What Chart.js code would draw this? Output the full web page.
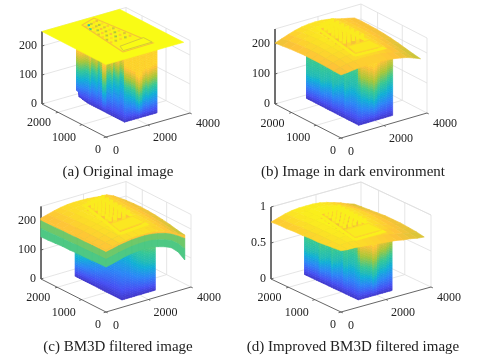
<!DOCTYPE html>
<html lang="en">
<head>
<meta charset="UTF-8">
<title>BM3D surface plots</title>
<script src="https://cdn.jsdelivr.net/npm/chart.js"></script>
<style>
    body { margin: 0; background: #fff; }
    #wrap { position: relative; width: 480px; height: 361px; overflow: hidden; }
    canvas { position: absolute; left: 0; top: 0; filter: blur(0.4px); }
    .cap { position: absolute; width: 240px; text-align: center; font: 15px "Liberation Serif", serif; color: #222; line-height: 16px; white-space: nowrap; }
</style>
</head>
<body>
<div id="wrap">
    <canvas id="plot" width="480" height="361"></canvas>
    <div class="cap" style="left:-2px;top:163px">(a) Original image</div>
    <div class="cap" style="left:233px;top:163px">(b) Image in dark environment</div>
    <div class="cap" style="left:-2px;top:338px">(c) BM3D filtered image</div>
    <div class="cap" style="left:233px;top:338px">(d) Improved BM3D filtered image</div>
</div>
<script>
// tick values
const xTicks = [0, 2000, 4000];
const yTicks = [0, 1000, 2000];
const zTicks = [0, 100, 200];
const zTicksD = [0, 0.5, 1];

// top surface heights, one row per image line (front edge first)
const sheetA = [[250, 250], [250, 250]];
const sheetB = [
    [210,212,215,217,218,219,218,216,213,209,204,196,187],
    [211,216,221,224,226,226,225,223,219,214,208,199,191],
    [212,219,225,229,231,232,231,228,224,219,212,203,196],
    [213,221,228,232,234,235,234,232,228,222,215,206,201],
    [213,222,229,234,237,238,237,234,230,224,217,209,205],
    [213,222,230,235,238,239,238,236,232,226,219,211,208],
    [211,221,229,235,238,239,239,237,233,227,220,212,210],
    [209,219,227,233,236,238,238,236,233,227,220,213,211],
    [206,215,223,230,234,236,237,235,232,227,220,214,211],
    [203,211,219,226,231,234,235,234,231,226,220,215,210]
];
const sheetC = [
    [214,219,224,227,230,231,231,229,225,219,210,198,186],
    [214,220,226,230,233,234,234,232,228,222,213,201,190],
    [214,221,227,232,235,237,237,235,231,225,216,205,196],
    [213,221,228,233,236,238,238,236,232,226,218,208,200],
    [213,221,228,233,237,239,239,237,233,227,219,210,203],
    [212,220,227,233,236,238,239,237,233,227,220,211,205],
    [212,220,226,232,235,237,238,236,233,227,221,212,206],
    [211,218,225,230,233,235,236,235,232,227,222,213,205],
    [210,217,223,228,231,233,234,233,230,226,223,214,203],
    [210,216,222,227,230,231,231,230,228,225,224,214,200]
];
const sheetD = [
    [.85,.84,.84,.83,.82,.81,.80,.79,.78,.76,.75,.73,.72],
    [.84,.85,.86,.86,.86,.85,.84,.83,.81,.79,.77,.75,.74],
    [.83,.85,.87,.88,.88,.88,.87,.85,.83,.81,.79,.76,.75],
    [.82,.85,.87,.89,.90,.89,.88,.87,.85,.83,.80,.77,.76],
    [.82,.85,.87,.89,.90,.90,.89,.88,.86,.84,.81,.78,.76],
    [.81,.84,.87,.89,.90,.90,.90,.89,.87,.84,.82,.78,.76],
    [.81,.84,.87,.89,.90,.90,.90,.89,.87,.85,.82,.78,.75],
    [.80,.83,.86,.88,.89,.90,.90,.89,.87,.85,.81,.77,.74],
    [.80,.83,.86,.88,.89,.89,.89,.88,.86,.83,.80,.76,.73],
    [.79,.82,.85,.87,.88,.88,.88,.87,.85,.82,.79,.75,.72]
];

// height where each wall column turns teal, left face then right face
const wallLeftA = [75,90,70,100,80,110,85,95,120,90,110,130,85,62,90,135,100,125,140,110,135,150,125];
const wallRightA = [125,95,110,85,95,75,60,55,70,85,80,75,88,82,90];
const wallLeftB = [85,90,80,95,85,100,90,80,100,90,110,95,85,115,95,125,110,95,125,115,130,120,120];
const wallRightB = [120,110,90,105,78,90,75,72,85,95,100,95,105,110,115];
const wallLeftC = [80,82,84,88,92,95,100,105,110,115,120,128,135,140,148,155,160,165,170,175,178,180,182];
const wallRightC = [182,175,168,160,150,140,132,125,118,112,108,105,103,100,98];
const wallLeftD = [.34,.38,.32,.40,.34,.42,.36,.30,.40,.34,.44,.38,.32,.46,.36,.50,.44,.36,.48,.44,.50,.46,.46];
const wallRightD = [.46,.42,.32,.40,.30,.36,.28,.26,.32,.36,.40,.36,.40,.42,.44];
const wallFloorA = [25,22,6,3,2,0];

// hanging band under the rim of (c)
const skirtLeftC = [155,155,153,152,152,150,150,148,146,145];
const skirtRightC = [155,160,166,172,176,178,179,178,172,165,155,134,100];

// outline of the raised inset and the block on it, as image x,y
const insetA = [[1264,398],[2720,422],[2392,2600],[1612,2414]];
const insetB = [[1168,448],[2404,392],[2328,2470],[1624,2344]];
const insetC = [[1065,350],[2400,450],[2580,2420],[1660,2320]];
const insetD = [[925,260],[2184,272],[2292,2082],[1436,2110]];
const blockA = [[1300,420],[2700,440],[2700,800],[1470,700]];
const blockB = [[1200,450],[2350,400],[2350,900],[1350,900]];
const blockC = [[1100,400],[2350,470],[2350,950],[1250,900]];
const blockD = [[950,280],[2150,280],[2150,800],[1100,800]];

// colour index of the pits inside the inset, 7 rows of 5
const pitsA = [
    [.88,.78,.90,.74,.85],[.76,.92,.70,.88,.80],[.90,.74,.85,.72,.90],[.80,.88,.76,.92,.78],
    [.92,.72,.85,.80,.88],[.56,.90,.78,.74,.92],[.88,.52,.76,.90,.82]
];
const pitsB = [
    [.86,.90,.84,.92,.86],[.90,.84,.93,.85,.90],[.84,.92,.86,.90,.85],[.92,.85,.90,.84,.92],
    [.85,.90,.84,.92,.86],[.90,.86,.92,.85,.90],[.86,.90,.85,.90,.87]
];
const pitsC = [
    [.86,.92,.85,.94,.86],[.92,.85,.95,.86,.92],[.85,.94,.86,.92,.85],[.94,.86,.92,.85,.94],
    [.86,.92,.85,.94,.86],[.92,.86,.94,.86,.92],[.86,.92,.86,.92,.88]
];
const pitsD = [
    [.84,.90,.82,.92,.85],[.90,.83,.93,.84,.90],[.83,.92,.85,.90,.84],[.92,.84,.90,.83,.92],
    [.84,.90,.83,.92,.85],[.90,.85,.92,.84,.90],[.86,.90,.85,.90,.87]
];

const parula = ['#3E26A8','#4852F4','#2E87F7','#12B1D6','#37C897','#ABC739','#FEC338','#F9FB15'];

function tone(t) {
    t = Math.max(0, Math.min(1, t)) * (parula.length - 1);
    const i = Math.min(parula.length - 2, Math.floor(t)), f = t - i;
    const a = parula[i], b = parula[i + 1];
    const ch = k => {
        const p = parseInt(a.substr(k, 2), 16), q = parseInt(b.substr(k, 2), 16);
        return Math.round(p + (q - p) * f);
    };
    return `rgb(${ch(1)},${ch(3)},${ch(5)})`;
}

const panels = [
    { o: [106,137], xv: [84,-24], yv: [-64,-33], zk: .29, zTop: 250, zTicks, cMax: 250, rampL: 100, rampR: 95,
      sheet: sheetA, wL: wallLeftA, wR: wallRightA, floor: wallFloorA, x0: 1450, yMin: 498, yMax: 2500, xMax: 3000,
      inset: insetA, block: blockA, pits: pitsA, insetTone: .985, lipTone: .84, blockTone: 1, pitTop: .98, insetZ: 250, pitLen: 14, lipW: 1.1, pitW: 2.6 },
    { o: [341,138], xv: [86,-25], yv: [-66,-34], zk: .30, zTop: 250, zTicks, cMax: 250, rampL: 260, rampR: 120,
      sheet: sheetB, wL: wallLeftB, wR: wallRightB, x0: 1260, yMin: 380, yMax: 2490, xMax: 2840,
      inset: insetB, block: blockB, pits: pitsB, insetTone: .85, lipTone: .96, blockTone: .95, pitTop: .96, insetZ: 232, pitLen: 36, lipW: 3, pitW: 3.4 },
    { o: [106,312], xv: [85,-25], yv: [-65,-33], zk: .29, zTop: 250, zTicks, cMax: 250, rampL: 200, rampR: 200,
      sheet: sheetC, wL: wallLeftC, wR: wallRightC, x0: 1180, yMin: 374, yMax: 2290, xMax: 2752,
      inset: insetC, block: blockC, pits: pitsC, insetTone: .86, lipTone: .96, blockTone: .95, pitTop: .96, insetZ: 232, pitLen: 36, lipW: 3, pitW: 3.4,
      skirtL: skirtLeftC, skirtR: skirtRightC },
    { o: [341,312], xv: [90,-25], yv: [-70,-33], zk: 72, zTop: 1, zTicks: zTicksD, cMax: .92, rampL: .9, rampR: .48,
      sheet: sheetD, wL: wallLeftD, wR: wallRightD, x0: 1200, yMin: 371, yMax: 2416, xMax: 2704,
      inset: insetD, block: blockD, pits: pitsD, insetTone: .86, lipTone: .97, blockTone: .96, pitTop: .97, insetZ: .88, pitLen: .14, lipW: 3, pitW: 3.4 }
];

const xLimit = 4000, yLimit = 2670, sheetX = 3700, sheetY = 2670;

function project(p, x, y, z) {
    const a = x / xLimit, b = y / yLimit;
    return { x: p.o[0] + p.xv[0] * a + p.yv[0] * b, y: p.o[1] + p.xv[1] * a + p.yv[1] * b - z * p.zk };
}

const datasets = [];
function addLine(points, color, width) {
    datasets.push({ data: points, showLine: true, borderColor: color, borderWidth: width, pointRadius: 0, fill: false });
}
function addPoly(points, color) {
    datasets.push({ data: points.concat([points[0]]), showLine: true, backgroundColor: color, borderColor: color, borderWidth: 0.6, pointRadius: 0, fill: 'shape' });
}

const tickLabels = [];

function addAxes(p) {
    const grid = '#dedede', dark = '#555';
    const P = (x, y, z) => project(p, x, y, z);
    const zt = p.zTicks.slice(1).concat(p.zTop);
    // back walls and floor
    for (const x of xTicks.slice(1, 2)) {
        addLine([P(x, 0, 0), P(x, yLimit, 0), P(x, yLimit, p.zTop)], grid, 0.8);
    }
    for (const y of yTicks.slice(1)) {
        addLine([P(0, y, 0), P(xLimit, y, 0), P(xLimit, y, p.zTop)], grid, 0.8);
    }
    for (const z of zt) {
        addLine([P(0, yLimit, z), P(xLimit, yLimit, z), P(xLimit, 0, z)], grid, 0.8);
    }
    addLine([P(0, yLimit, 0), P(xLimit, yLimit, 0), P(xLimit, 0, 0)], grid, 0.8);
    addLine([P(xLimit, yLimit, 0), P(xLimit, yLimit, p.zTop)], grid, 0.8);
    addLine([P(xLimit, 0, 0), P(xLimit, 0, p.zTop)], grid, 0.8);
    // front axes
    addLine([P(0, yLimit, p.zTop), P(0, yLimit, 0), P(0, 0, 0), P(xLimit, 0, 0)], dark, 0.9);
    for (const x of xTicks) addLine([P(x, 0, 0), P(x, -70, 0)], dark, 0.9);
    for (const y of yTicks) addLine([P(0, y, 0), P(-110, y, 0)], dark, 0.9);
    for (const z of p.zTicks) addLine([P(0, yLimit, z), P(110, yLimit, z)], dark, 0.9);

    const xOff = [[10,14], [17,13], [18,11]], yOff = [[-8,13], [-18,13], [-19,11]];
    xTicks.forEach((x, i) => {
        const q = P(x, 0, 0);
        tickLabels.push({ x: q.x + xOff[i][0], y: q.y + xOff[i][1], text: String(x), align: 'center' });
    });
    yTicks.forEach((y, i) => {
        const q = P(0, y, 0);
        tickLabels.push({ x: q.x + yOff[i][0], y: q.y + yOff[i][1], text: String(y), align: 'center' });
    });
    p.zTicks.forEach(z => {
        const q = P(0, yLimit, z);
        tickLabels.push({ x: q.x - 5, y: q.y, text: String(z), align: 'right' });
    });
}

function wallColor(z, g, ramp) {
    if (z < g) return tone(0.06 + 0.44 * z / g);
    return tone(Math.min(0.9, 0.5 + 0.45 * (z - g) / ramp));
}

function addWall(p) {
    const rows = 38, top = p.zTop * 0.92;
    const face = (vals, ramp, at, floor) => {
        for (let i = 0; i < vals.length - 1; i++) {
            const f0 = floor && floor[i] ? floor[i] : 0, f1 = floor && floor[i + 1] ? floor[i + 1] : 0;
            const g = (vals[i] + vals[i + 1]) / 2;
            const [x0, y0] = at(i / (vals.length - 1)), [x1, y1] = at((i + 1) / (vals.length - 1));
            for (let r = 0; r < rows; r++) {
                const z0 = r * top / rows, z1 = (r + 1) * top / rows;
                if (z1 <= Math.min(f0, f1)) continue;
                addPoly([
                    project(p, x0, y0, Math.max(z0, f0)), project(p, x1, y1, Math.max(z0, f1)),
                    project(p, x1, y1, z1), project(p, x0, y0, z1)
                ], wallColor((z0 + z1) / 2, g, ramp));
            }
        }
    };
    face(p.wL, p.rampL, t => [p.x0, p.yMax + (p.yMin - p.yMax) * t], p.floor);
    face(p.wR, p.rampR, t => [p.x0 + (p.xMax - p.x0) * t, p.yMin]);
}

function sheetZ(p, ix, iy) { return p.sheet[iy][ix]; }
function sheetPos(p, ix, iy) {
    const nx = p.sheet[0].length - 1, ny = p.sheet.length - 1;
    return [ix / nx * sheetX, iy / ny * sheetY];
}

function addSkirt(p) {
    const ny = p.sheet.length - 1, nx = p.sheet[0].length - 1;
    const strip = (a, b, za, zb, ba, bb) => {
        const k = [[0, .14, .86], [.14, .55, .64], [.55, 1, .6]];
        for (const [s, e, t] of k) {
            addPoly([
                project(p, a[0], a[1], za + (ba - za) * s), project(p, b[0], b[1], zb + (bb - zb) * s),
                project(p, b[0], b[1], zb + (bb - zb) * e), project(p, a[0], a[1], za + (ba - za) * e)
            ], tone(t));
        }
    };
    for (let i = 0; i < ny; i++) {
        strip(sheetPos(p, 0, i), sheetPos(p, 0, i + 1), sheetZ(p, 0, i), sheetZ(p, 0, i + 1), p.skirtL[i], p.skirtL[i + 1]);
    }
    for (let i = 0; i < nx; i++) {
        strip(sheetPos(p, i, 0), sheetPos(p, i + 1, 0), sheetZ(p, i, 0), sheetZ(p, i + 1, 0), p.skirtR[i], p.skirtR[i + 1]);
    }
}

function addSheet(p) {
    const ny = p.sheet.length - 1, nx = p.sheet[0].length - 1;
    for (let iy = ny - 1; iy >= 0; iy--) {
        for (let ix = nx - 1; ix >= 0; ix--) {
            const c = [[ix, iy], [ix + 1, iy], [ix + 1, iy + 1], [ix, iy + 1]];
            let zs = 0;
            const pts = c.map(([a, b]) => {
                const [x, y] = sheetPos(p, a, b), z = sheetZ(p, a, b);
                zs += z;
                return project(p, x, y, z);
            });
            addPoly(pts, tone(zs / 4 / p.cMax));
        }
    }
}

function insetAt(q, u, v) {
    const ax = q[0][0] + (q[1][0] - q[0][0]) * u, ay = q[0][1] + (q[1][1] - q[0][1]) * u;
    const bx = q[3][0] + (q[2][0] - q[3][0]) * u, by = q[3][1] + (q[2][1] - q[3][1]) * u;
    return [ax + (bx - ax) * v, ay + (by - ay) * v];
}

function addInset(p) {
    const z = p.insetZ;
    const outline = p.inset.map(([x, y]) => project(p, x, y, z));
    addPoly(outline, tone(p.insetTone));
    // pits run along the back of the inset
    const rows = p.pits.length, cols = p.pits[0].length;
    for (let r = rows - 1; r >= 0; r--) {
        for (let c = cols - 1; c >= 0; c--) {
            const [x, y] = insetAt(p.inset, (c + .5) / cols, .3 + .68 * (r + .5) / rows);
            const q0 = project(p, x, y, z - p.pitLen * .4), q1 = project(p, x, y, z + p.pitLen * .15), q2 = project(p, x, y, z + p.pitLen * .6);
            addLine([q0, q1], tone(p.pits[r][c]), p.pitW);
            addLine([q1, q2], tone(p.pitTop), p.pitW);
        }
    }
    addLine(outline.concat([outline[0]]), tone(p.lipTone), p.lipW);
    const blockZ = z + p.pitLen * .2;
    const block = p.block.map(([x, y]) => project(p, x, y, blockZ));
    addPoly(block, tone(p.blockTone));
    addLine(block.concat([block[0]]), tone(p.lipTone - .06), 0.9);
}

for (const p of panels) {
    addAxes(p);
    addWall(p);
    if (p.skirtL) addSkirt(p);
    addSheet(p);
    addInset(p);
}
// Chart.js paints the first dataset on top, so flip the painter's order
datasets.reverse();

const tickText = {
    id: 'tickText',
    afterDraw(chart) {
        const { ctx, scales } = chart;
        ctx.save();
        ctx.font = '12px "Liberation Serif", serif';
        ctx.fillStyle = '#222';
        ctx.textBaseline = 'middle';
        for (const t of tickLabels) {
            ctx.textAlign = t.align;
            ctx.fillText(t.text, scales.x.getPixelForValue(t.x), scales.y.getPixelForValue(t.y));
        }
        ctx.restore();
    }
};

new Chart(document.getElementById('plot'), {
    type: 'scatter',
    data: { datasets },
    plugins: [tickText],
    options: {
        responsive: false,
        animation: false,
        events: [],
        layout: { padding: 0 },
        elements: { line: { tension: 0 } },
        plugins: { legend: { display: false }, tooltip: { enabled: false }, title: { display: false } },
        scales: {
            x: { type: 'linear', min: 0, max: 480, display: false },
            y: { type: 'linear', min: 0, max: 361, reverse: true, display: false }
        }
    }
});
</script>
</body>
</html>
